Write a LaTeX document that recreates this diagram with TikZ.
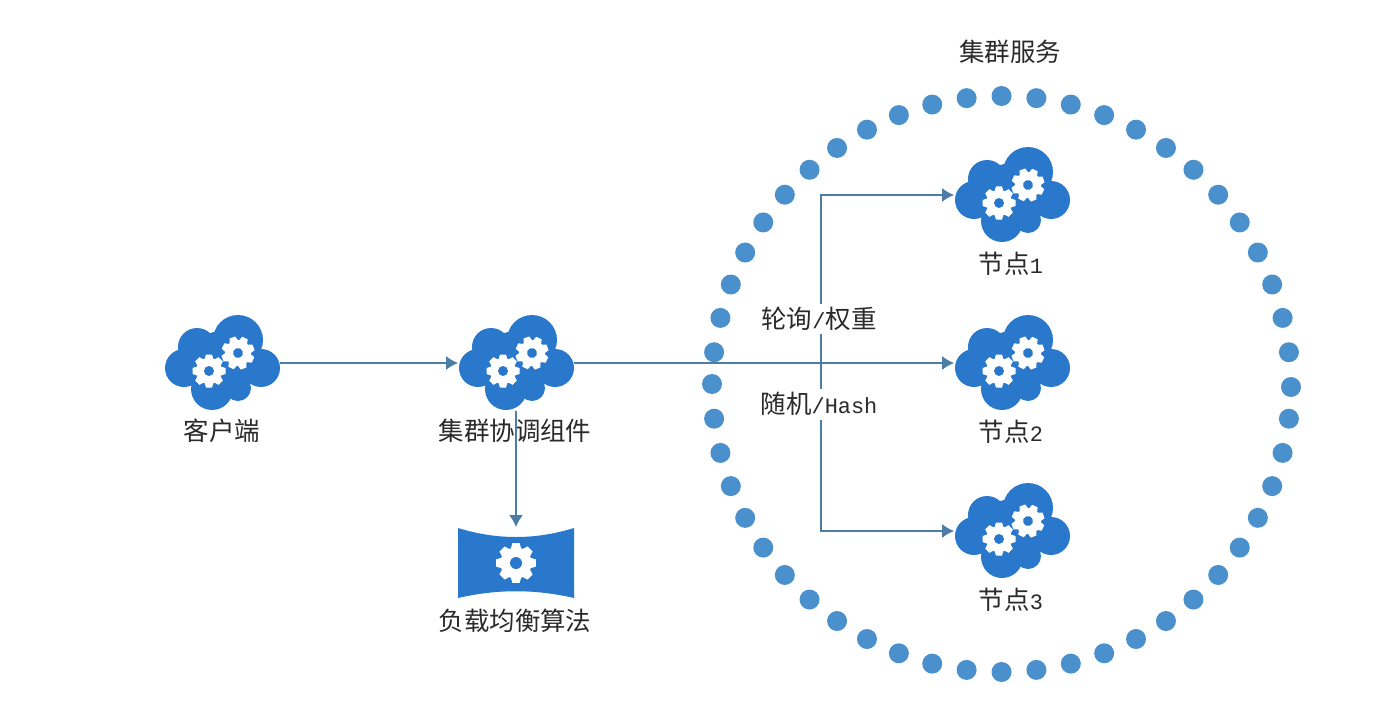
\documentclass[tikz,border=0pt]{standalone}
\usepackage{fontspec}
\setmainfont{Liberation Mono}
\newfontfamily\cjk{Noto Sans CJK SC}
\newfontfamily\lat[Scale=0.86]{Liberation Mono}
\usetikzlibrary{positioning,arrows.meta}
\definecolor{iconblue}{HTML}{2A78CC}
\definecolor{dotblue}{HTML}{4A90CC}
\definecolor{lineblue}{HTML}{4C7DA6}
\definecolor{txtgray}{HTML}{2A2A2A}
\begin{document}
\begin{tikzpicture}[x=0.02cm,y=-0.02cm,
    dotmark/.style={fill=dotblue,circle,minimum size=0.4cm,inner sep=0pt},
    cloudbox/.style={minimum width=2.3cm,minimum height=1.9cm,inner sep=0pt},
    bannerbox/.style={minimum width=2.32cm,minimum height=1.42cm,inner sep=0pt},
    txt/.style={font=\cjk\fontsize{14.5pt}{16pt}\selectfont,text=txtgray,inner sep=1pt},
    gaptxt/.style={txt,fill=white,minimum height=0.62cm},
    conn/.style={-{Latex[length=0.24cm,width=0.28cm]},lineblue,line width=1.1pt},
    gearicon/.pic={
        \foreach \a in {0,45,...,315}
            \fill[white,rotate=\a] (-5,-10) -- (-3,-16.5) -- (3,-16.5) -- (5,-10) -- cycle;
        \fill[white] (0,0) circle (13);
        \fill[iconblue] (0,0) circle (5);
    },
    cloudicon/.pic={
        \fill[iconblue] (-38,6) circle (19) (-25,-15) circle (19) (16,-22) circle (25)
            (39,6) circle (19) (-10,27) circle (21) (16,26) circle (13) (0,2) circle (33);
        \pic at (-13,9) {gearicon};
        \pic[rotate=20] at (16,-9) {gearicon};
    }]
    \useasboundingbox (0,0) rectangle (1378,726);

    % dotted ring
    \foreach \i in {1,...,52}
        \node[dotmark] (d\i) at ({1001.5+289.5*cos(\i*6.9231)},{384+3*cos(\i*6.9231)^2*(sin(\i*6.9231)>0)-288*sin(\i*6.9231)}) {};

    % icons
    \foreach \nm/\px/\py in {client/222/363,coord/516/363,node1/1012/195,node2/1012/363,node3/1012/531} {
        \node[cloudbox] (\nm) at (\px,\py) {};
        \pic at (\px,\py-1) {cloudicon};
    }
    \node[bannerbox] (algo) at (516,563) {};
    \fill[iconblue] (458,528) .. controls (497,540) and (535,540) .. (574,528) -- (574,598)
        .. controls (535,589) and (497,589) .. (458,598) -- cycle;
    \pic[scale=1.2] at (516,563) {gearicon};

    % labels under the icons
    \node[txt] (clienttxt) at (222,431) {客户端};
    \node[txt] (coordtxt) at (515,431) {集群协调组件};
    \node[txt] (algotxt) at (515,621) {负载均衡算法};
    \node[txt] (node1txt) at (1011,264) {节点{\lat 1}};
    \node[txt] (node2txt) at (1011,432) {节点{\lat 2}};
    \node[txt] (node3txt) at (1011,600) {节点{\lat 3}};
    \node[txt] (ringtxt) at (1010,52) {集群服务};

    % connectors
    \coordinate (fork) at (821,363);
    \draw[conn] (client) -- (coord);
    \draw[conn] (coord) -- (node2);
    \draw[conn] (coord) -- (algo);
    \draw[conn] (fork) |- (node1);
    \draw[conn] (fork) |- (node3);

    \node[gaptxt] (polltxt) at (819,319) {轮询{\lat /}权重};
    \node[gaptxt] (randtxt) at (819,404) {随机{\lat /Hash}};
\end{tikzpicture}
\end{document}
